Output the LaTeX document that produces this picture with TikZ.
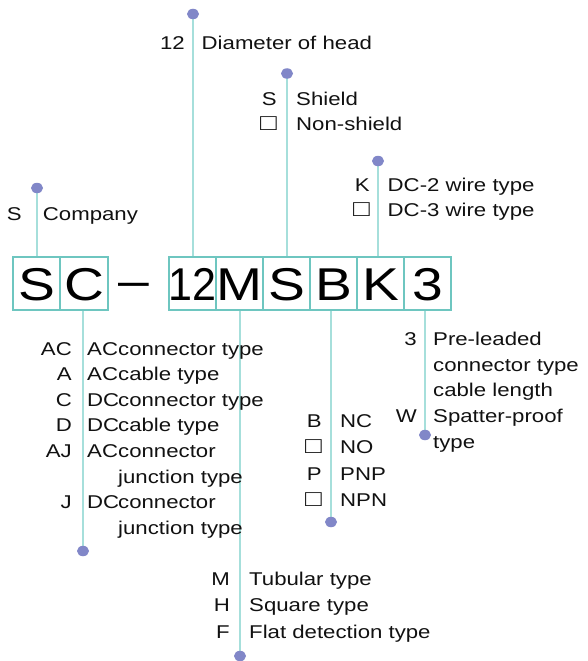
\documentclass[tikz,border=0pt]{standalone}
\usepackage{fontspec}
\setmainfont{Liberation Sans}[FakeStretch=1.2]
\usetikzlibrary{shapes.geometric,backgrounds}
\definecolor{boxc}{HTML}{6EC6C0}
\definecolor{leadc}{HTML}{A6DFDB}
\definecolor{dotc}{HTML}{8187C8}
\definecolor{txt}{HTML}{111111}
\newcommand{\sq}{\scalebox{1.25}{□}}
\tikzset{
  letterbox/.style={draw=boxc, line width=2pt, minimum height=53pt, inner sep=0pt,
    text height=33pt, text depth=0pt, text=black, font=\fontsize{46}{46}\selectfont},
  dotmark/.style={ellipse, fill=dotc, minimum width=12pt, minimum height=10.5pt, inner sep=0pt},
  lead/.style={draw=leadc, line width=2pt},
  code/.style={anchor=base east, inner sep=0pt, text=txt, font=\fontsize{18.5}{22}\selectfont},
  desc/.style={anchor=base west, inner sep=0pt, text=txt, font=\fontsize{18.5}{22}\selectfont},
}
\begin{document}
\begin{tikzpicture}[x=1pt,y=-1pt]
\useasboundingbox (0,0) rectangle (587,661);
% boxes
\node[letterbox, minimum width=47pt] (bS) at (36.5,283.5) {S};
\node[letterbox, minimum width=48pt] (bC) at (84,283.5) {C};
\node[anchor=base, inner sep=0pt, font=\fontsize{46}{46}\selectfont] (dash) at (134,296) {–};
\node[letterbox, minimum width=47pt] (b12) at (192.5,283.5) {\scalebox{0.78}[1]{12}};
\node[letterbox, minimum width=47pt] (bM) at (239.5,283.5) {M};
\node[letterbox, minimum width=47pt] (bS2) at (286.5,283.5) {S};
\node[letterbox, minimum width=47pt] (bB) at (333.5,283.5) {B};
\node[letterbox, minimum width=47pt] (bK) at (380.5,283.5) {K};
\node[letterbox, minimum width=47pt] (b3) at (427.5,283.5) {3};
% dots
\node[dotmark] (dS) at (37,188) {};
\node[dotmark] (d12) at (193,14) {};
\node[dotmark] (dS2) at (287,73.5) {};
\node[dotmark] (dK) at (378,161) {};
\node[dotmark] (dC) at (83,551) {};
\node[dotmark] (dM) at (240,656) {};
\node[dotmark] (dB) at (331,522) {};
\node[dotmark] (d3) at (425,435) {};
% leads
\begin{pgfonlayer}{background}
\draw[lead] (dS.center) -- (dS.center |- bS.north);
\draw[lead] (d12.center) -- (d12.center |- b12.north);
\draw[lead] (dS2.center) -- (dS2.center |- bS2.north);
\draw[lead] (dK.center) -- (dK.center |- bK.north);
\draw[lead] (dC.center |- bC.south) -- (dC.center);
\draw[lead] (dM.center |- bM.south) -- (dM.center);
\draw[lead] (dB.center |- bB.south) -- (dB.center);
\draw[lead] (d3.center |- b3.south) -- (d3.center);
\end{pgfonlayer}
% top labels
\node[code] (c12) at (185,49) {12};
\node[desc] (t12) at (201.5,49) {Diameter of head};
\node[code] (cS2a) at (277,105) {S};
\node[desc] (tS2a) at (296,105) {Shield};
\node[code] (cS2b) at (277,130) {\sq};
\node[desc] (tS2b) at (296,130) {Non-shield};
\node[code] (cKa) at (370,191) {K};
\node[desc] (tKa) at (387.5,191) {DC-2 wire type};
\node[code] (cKb) at (370,216) {\sq};
\node[desc] (tKb) at (387.5,216) {DC-3 wire type};
\node[code] (cS) at (22,220) {S};
\node[desc] (tS) at (42.7,220) {Company};
% C group
\node[code] (cC1) at (72,355) {AC};
\node[desc] (kC1) at (87,355) {AC};
\node[desc] (tC1) at (118,355) {connector type};
\node[code] (cC2) at (72,380.6) {A};
\node[desc] (kC2) at (87,380.6) {AC};
\node[desc] (tC2) at (118,380.6) {cable type};
\node[code] (cC3) at (72,406.2) {C};
\node[desc] (kC3) at (87,406.2) {DC};
\node[desc] (tC3) at (118,406.2) {connector type};
\node[code] (cC4) at (72,431.8) {D};
\node[desc] (kC4) at (87,431.8) {DC};
\node[desc] (tC4) at (118,431.8) {cable type};
\node[code] (cC5) at (72,457.4) {AJ};
\node[desc] (kC5) at (87,457.4) {AC};
\node[desc] (tC5) at (118,457.4) {connector};
\node[desc] (tC5b) at (118,483) {junction type};
\node[code] (cC6) at (72,508.6) {J};
\node[desc] (kC6) at (87,508.6) {DC};
\node[desc] (tC6) at (118,508.6) {connector};
\node[desc] (tC6b) at (118,534.2) {junction type};
% M group
\node[code] (cM1) at (230,585) {M};
\node[desc] (tM1) at (249,585) {Tubular type};
\node[code] (cM2) at (230,611.5) {H};
\node[desc] (tM2) at (249,611.5) {Square type};
\node[code] (cM3) at (230,638) {F};
\node[desc] (tM3) at (249,638) {Flat detection type};
% B group
\node[code] (cB1) at (322,427) {B};
\node[desc] (tB1) at (340,427) {NC};
\node[code] (cB2) at (322,453) {\sq};
\node[desc] (tB2) at (340,453) {NO};
\node[code] (cB3) at (322,480) {P};
\node[desc] (tB3) at (340,480) {PNP};
\node[code] (cB4) at (322,506) {\sq};
\node[desc] (tB4) at (340,506) {NPN};
% 3 group
\node[code] (c31) at (417,345) {3};
\node[desc] (t31) at (433,345) {Pre-leaded};
\node[desc] (t32) at (433,371) {connector type};
\node[desc] (t33) at (433,396.5) {cable length};
\node[code] (c34) at (417,422) {W};
\node[desc] (t34) at (433,422) {Spatter-proof};
\node[desc] (t35) at (433,448) {type};
\end{tikzpicture}
\end{document}
